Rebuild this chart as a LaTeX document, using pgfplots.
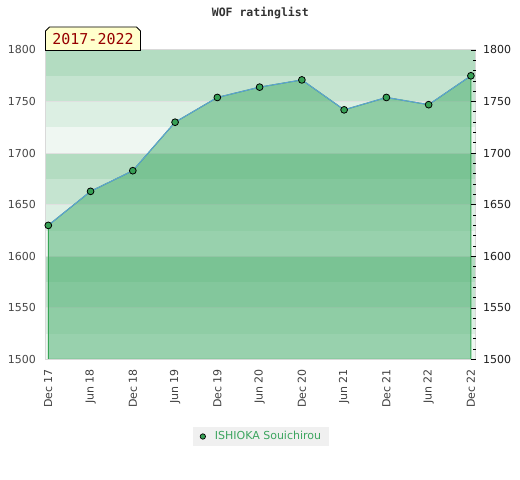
\documentclass[border=0pt]{standalone}
\usepackage{fontspec}
\setmainfont{DejaVu Sans}
\newfontfamily\monof{DejaVu Sans Mono}
\usepackage{pgfplots}
\usepackage{pgfplotstable}
\pgfplotsset{compat=1.18}
\definecolor{bandA}{HTML}{EFF7F2}
\definecolor{bandB}{HTML}{DCEFE3}
\definecolor{bandC}{HTML}{C5E4D0}
\definecolor{bandD}{HTML}{B3DCC1}
\definecolor{areaG}{RGB}{67,172,105}
\definecolor{edgeG}{RGB}{55,165,85}
\definecolor{lineB}{RGB}{95,160,215}
\definecolor{markG}{RGB}{55,160,85}
\definecolor{legG}{RGB}{60,165,95}
\definecolor{legBg}{HTML}{F0F0F0}
\definecolor{frameG}{HTML}{D9D9D9}
\definecolor{gridG}{HTML}{E0E0E0}
\definecolor{boxY}{HTML}{FFFFCC}
\definecolor{boxR}{RGB}{150,0,0}
\pgfplotstableread{
x y
0 1630
1 1663
2 1683
3 1730
4 1754
5 1764
6 1771
7 1742
8 1754
9 1747
10 1775
}\ratings
\begin{document}
\begin{tikzpicture}[x=1bp,y=1bp]
\path[use as bounding box] (0,0) rectangle (520,480);
\fill[white] (0,0) rectangle (520,480);
\begin{axis}[
  at={(45.5bp,120.5bp)}, anchor=south west,
  scale only axis, width=430bp, height=309.5bp,
  xmin=-0.066, xmax=10.109, ymin=1500, ymax=1800,
  axis on top,
  xtick={0,...,10},
  xticklabels={Dec 17,Jun 18,Dec 18,Jun 19,Dec 19,Jun 20,Dec 20,Jun 21,Dec 21,Jun 22,Dec 22},
  x tick label style={rotate=90, anchor=east, font=\fontsize{11bp}{12bp}\selectfont, text=black!75},
  xticklabel shift=6bp,
  ytick={1500,1550,...,1800},
  y tick label style={font=\fontsize{11bp}{12bp}\selectfont, text=black!72},
  yticklabel shift=6bp,
  major tick length=0pt,
  axis line style={frameG, line width=1bp},
  /pgf/number format/1000 sep={},
  /pgf/number format/assume math mode=true,
  legend style={at={(0.5011,-0.2488)}, anchor=center, fill=legBg, draw=none,
    font=\fontsize{11bp}{12bp}\selectfont, text=legG,
    inner xsep=6bp, inner ysep=3bp, nodes={inner sep=1.5bp}},
]
\pgfplotsinvokeforeach{1500,1600,1700}{
  \fill[bandA] (axis cs:-1,#1) rectangle (axis cs:11,#1+25);
  \fill[bandB] (axis cs:-1,#1+25) rectangle (axis cs:11,#1+50);
  \fill[bandC] (axis cs:-1,#1+50) rectangle (axis cs:11,#1+75);
  \fill[bandD] (axis cs:-1,#1+75) rectangle (axis cs:11,#1+100);
}
\pgfplotsinvokeforeach{1550,1600,1650,1700,1750}{
  \draw[gridG, line width=1bp] (axis cs:-1,#1) -- (axis cs:11,#1);
}
\addplot[draw=edgeG, line width=1bp, fill=areaG, fill opacity=0.5, forget plot] table {\ratings} \closedcycle;
\addplot[lineB, line width=1bp, mark=*, mark size=3.4bp,
  mark options={fill=markG, draw=black, line width=0.8bp},
  legend image code/.code={\draw[mark=*, mark size=2.7bp, mark options={fill=markG, draw=black, line width=0.7bp}] plot coordinates {(3bp,0bp)}; \path (0bp,0bp) (13bp,0bp);}
  ] table {\ratings};
\addlegendentry{ISHIOKA Souichirou}
\end{axis}
\begin{axis}[
  at={(45.5bp,120.5bp)}, anchor=south west,
  scale only axis, width=430bp, height=309.5bp,
  xmin=-0.066, xmax=10.109, ymin=1500, ymax=1800,
  hide x axis, axis y line*=right,
  axis line style={draw=none},
  ytick={1500,1550,...,1800}, minor y tick num=4,
  tick align=inside, major tick length=5bp, minor tick length=3bp,
  tick style={black, line width=0.8bp},
  y tick label style={font=\fontsize{11bp}{12bp}\selectfont, text=black!88},
  yticklabel shift=4bp,
  /pgf/number format/1000 sep={},
  /pgf/number format/assume math mode=true,
]
\addplot[draw=none] coordinates {(0,1500)};
\end{axis}
\node[font=\monof\bfseries\fontsize{11.5bp}{13bp}\selectfont, text=black!80] at (260.3,466.5) {WOF ratinglist};
\filldraw[fill=boxY, draw=black, line width=0.8bp] (45.5,429.5) -- (45.5,449) -- (49.5,453) -- (136.5,453) -- (140.5,449) -- (140.5,429.5) -- cycle;
\node[font=\monof\fontsize{15bp}{17bp}\selectfont, text=boxR] at (93,440.5) {2017-2022};
\end{tikzpicture}
\end{document}
